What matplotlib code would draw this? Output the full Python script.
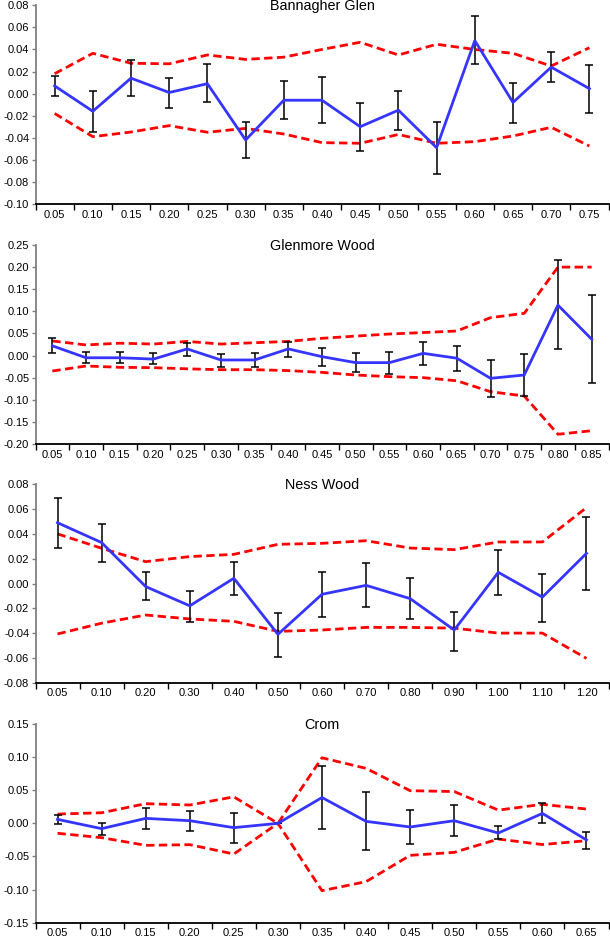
import matplotlib
matplotlib.use("Agg")
import matplotlib.pyplot as plt
from matplotlib.ticker import FixedLocator, FormatStrFormatter
from matplotlib.transforms import offset_copy
import numpy as np

plt.rcParams['font.family'] = ['Liberation Sans', 'DejaVu Sans']
plt.rcParams['axes.unicode_minus'] = False

# ---- Bannagher Glen ----
bg_x = ["0.05", "0.10", "0.15", "0.20", "0.25", "0.30", "0.35", "0.40", "0.45", "0.50", "0.55", "0.60", "0.65", "0.70", "0.75"]
bg_mean = [0.007, -0.016, 0.014, 0.001, 0.009, -0.042, -0.006, -0.006, -0.030, -0.015, -0.049, 0.048, -0.008, 0.024, 0.0045]
bg_err_hi = [0.0163, 0.0027, 0.030, 0.0145, 0.0265, -0.026, 0.0117, 0.0154, -0.0088, 0.0027, -0.026, 0.070, 0.010, 0.0377, 0.026]
bg_err_lo = [-0.0022, -0.035, -0.002, -0.0133, -0.008, -0.058, -0.0233, -0.027, -0.052, -0.033, -0.073, 0.0265, -0.027, 0.0108, -0.018]
bg_upper = [0.018, 0.0365, 0.0275, 0.027, 0.035, 0.031, 0.033, 0.040, 0.0465, 0.035, 0.0447, 0.040, 0.0365, 0.025, 0.0416]
bg_lower = [-0.018, -0.039, -0.0348, -0.029, -0.035, -0.0315, -0.0366, -0.0444, -0.045, -0.037, -0.045, -0.0435, -0.0384, -0.0305, -0.0475]
bg_yticks = [-0.10, -0.08, -0.06, -0.04, -0.02, 0.00, 0.02, 0.04, 0.06, 0.08]

# ---- Glenmore Wood ----
gw_x = ["0.05", "0.10", "0.15", "0.20", "0.25", "0.30", "0.35", "0.40", "0.45", "0.50", "0.55", "0.60", "0.65", "0.70", "0.75", "0.80", "0.85"]
gw_mean = [0.022, -0.005, -0.005, -0.008, 0.015, -0.010, -0.010, 0.015, -0.0025, -0.016, -0.016, 0.005, -0.006, -0.0515, -0.044, 0.114, 0.037]
gw_err_hi = [0.040, 0.0073, 0.009, 0.006, 0.0284, 0.0035, 0.006, 0.0314, 0.016, 0.006, 0.009, 0.0307, 0.0224, -0.0093, 0.0027, 0.215, 0.137]
gw_err_lo = [0.0065, -0.0176, -0.0176, -0.020, -0.001, -0.026, -0.026, -0.0025, -0.023, -0.038, -0.0417, -0.0214, -0.035, -0.094, -0.091, 0.015, -0.062]
gw_upper = [0.033, 0.024, 0.028, 0.026, 0.032, 0.026, 0.029, 0.032, 0.039, 0.044, 0.0487, 0.052, 0.0555, 0.0857, 0.0955, 0.200, 0.200]
gw_lower = [-0.035, -0.0236, -0.0266, -0.0274, -0.030, -0.032, -0.032, -0.034, -0.038, -0.044, -0.0477, -0.050, -0.057, -0.0817, -0.0915, -0.178, -0.170]
gw_yticks = [-0.20, -0.15, -0.10, -0.05, 0.00, 0.05, 0.10, 0.15, 0.20, 0.25]

# ---- Ness Wood ----
nw_x = ["0.05", "0.10", "0.20", "0.30", "0.40", "0.50", "0.60", "0.70", "0.80", "0.90", "1.00", "1.10", "1.20"]
nw_mean = [0.049, 0.033, -0.0025, -0.018, 0.0042, -0.041, -0.0087, -0.0015, -0.0122, -0.0375, 0.009, -0.011, 0.0243]
nw_err_hi = [0.069, 0.048, 0.0089, -0.0058, 0.0173, -0.0237, 0.0093, 0.0165, 0.0042, -0.0227, 0.0273, 0.0074, 0.054]
nw_err_lo = [0.0286, 0.0176, -0.013, -0.031, -0.0093, -0.0596, -0.0267, -0.019, -0.029, -0.0544, -0.0093, -0.0308, -0.0055]
nw_upper = [0.040, 0.0284, 0.0176, 0.0217, 0.0235, 0.0316, 0.0324, 0.0345, 0.0286, 0.0273, 0.0335, 0.0335, 0.0612]
nw_lower = [-0.0407, -0.032, -0.0254, -0.0286, -0.0305, -0.0386, -0.0375, -0.0354, -0.0354, -0.036, -0.040, -0.040, -0.0604]
nw_yticks = [-0.08, -0.06, -0.04, -0.02, 0.00, 0.02, 0.04, 0.06, 0.08]

# ---- Crom ----
cr_x = ["0.05", "0.10", "0.15", "0.20", "0.25", "0.30", "0.35", "0.40", "0.45", "0.50", "0.55", "0.60", "0.65"]
cr_mean = [0.006, -0.008, 0.0075, 0.004, -0.0065, 0.000, 0.039, 0.003, -0.0055, 0.004, -0.0146, 0.015, -0.025]
cr_err_hi = [0.0126, 0.001, 0.023, 0.0186, 0.015, 0.000, 0.0866, 0.0468, 0.0196, 0.0277, -0.004, 0.030, -0.0126]
cr_err_lo = [-0.001, -0.0176, -0.0086, -0.0116, -0.029, 0.000, -0.0086, -0.0408, -0.031, -0.019, -0.024, 0.000, -0.038]
cr_upper = [0.014, 0.016, 0.0297, 0.0277, 0.040, 0.000, 0.099, 0.083, 0.0493, 0.048, 0.020, 0.0287, 0.0216]
cr_lower = [-0.015, -0.0216, -0.0332, -0.0322, -0.0463, 0.000, -0.1017, -0.088, -0.0483, -0.0438, -0.0237, -0.032, -0.0262]
cr_yticks = [-0.15, -0.10, -0.05, 0.00, 0.05, 0.10, 0.15]

panels = [
    ("Bannagher Glen", bg_x, bg_mean, bg_err_hi, bg_err_lo, bg_upper, bg_lower, bg_yticks),
    ("Glenmore Wood", gw_x, gw_mean, gw_err_hi, gw_err_lo, gw_upper, gw_lower, gw_yticks),
    ("Ness Wood", nw_x, nw_mean, nw_err_hi, nw_err_lo, nw_upper, nw_lower, nw_yticks),
    ("Crom", cr_x, cr_mean, cr_err_hi, cr_err_lo, cr_upper, cr_lower, cr_yticks),
]

W, H = 610, 936
fig = plt.figure(figsize=(W / 100, H / 100), dpi=100)
# pixel extents (top, bottom) for each panel
extents = [(5.3, 204), (245, 444), (484.3, 682.7), (724, 922.7)]
left_px, right_px = 35.5, 608.5

for (title, xl, mean, ehi, elo, up, lo, yt), (top, bot) in zip(panels, extents):
    ax = fig.add_axes([left_px / W, 1 - bot / H, (right_px - left_px) / W, (bot - top) / H])
    n = len(xl)
    x = np.arange(n)
    mean = np.array(mean)
    ehi = np.array(ehi)
    elo = np.array(elo)
    ax.plot(x, up, color='#ff0000', lw=2, ls=(0, (3, 1.6)), zorder=2)
    ax.plot(x, lo, color='#ff0000', lw=2, ls=(0, (3, 1.6)), zorder=2)
    ax.errorbar(x, mean, yerr=[mean - elo, ehi - mean], fmt='none', ecolor='black',
                elinewidth=1.1, capsize=2.8, capthick=1.1, zorder=3)
    ax.plot(x, mean, color='#3535ff', lw=2, zorder=4)
    ax.set_xlim(-0.5, n - 0.5)
    ax.set_ylim(yt[0], yt[-1])
    ax.set_yticks(yt)
    ax.yaxis.set_major_formatter(FormatStrFormatter('%.2f'))
    ax.set_xticks(x)
    ax.set_xticklabels(xl)
    ax.xaxis.set_minor_locator(FixedLocator(np.arange(n + 1) - 0.5))
    ax.tick_params(axis='x', which='major', length=0, pad=4, labelsize=8, colors='black')
    ax.tick_params(axis='x', which='minor', length=4, width=1, color='black', direction='out')
    ax.tick_params(axis='y', which='major', length=3, width=1, color='#808080', labelsize=8, pad=1.5)
    for s in ['top', 'right']:
        ax.spines[s].set_visible(False)
    ax.spines['left'].set_color('#808080')
    ax.spines['left'].set_linewidth(1.3)
    ax.spines['bottom'].set_color('black')
    ax.spines['bottom'].set_linewidth(1.3)
    tr = offset_copy(ax.transAxes, fig=fig, x=0, y=-4.7, units='dots')
    ax.text(0.5, 1.0, title, transform=tr, ha='center', va='baseline', fontsize=10.4)
    ax.patch.set_alpha(0)

fig.savefig('out.png', dpi=100)
